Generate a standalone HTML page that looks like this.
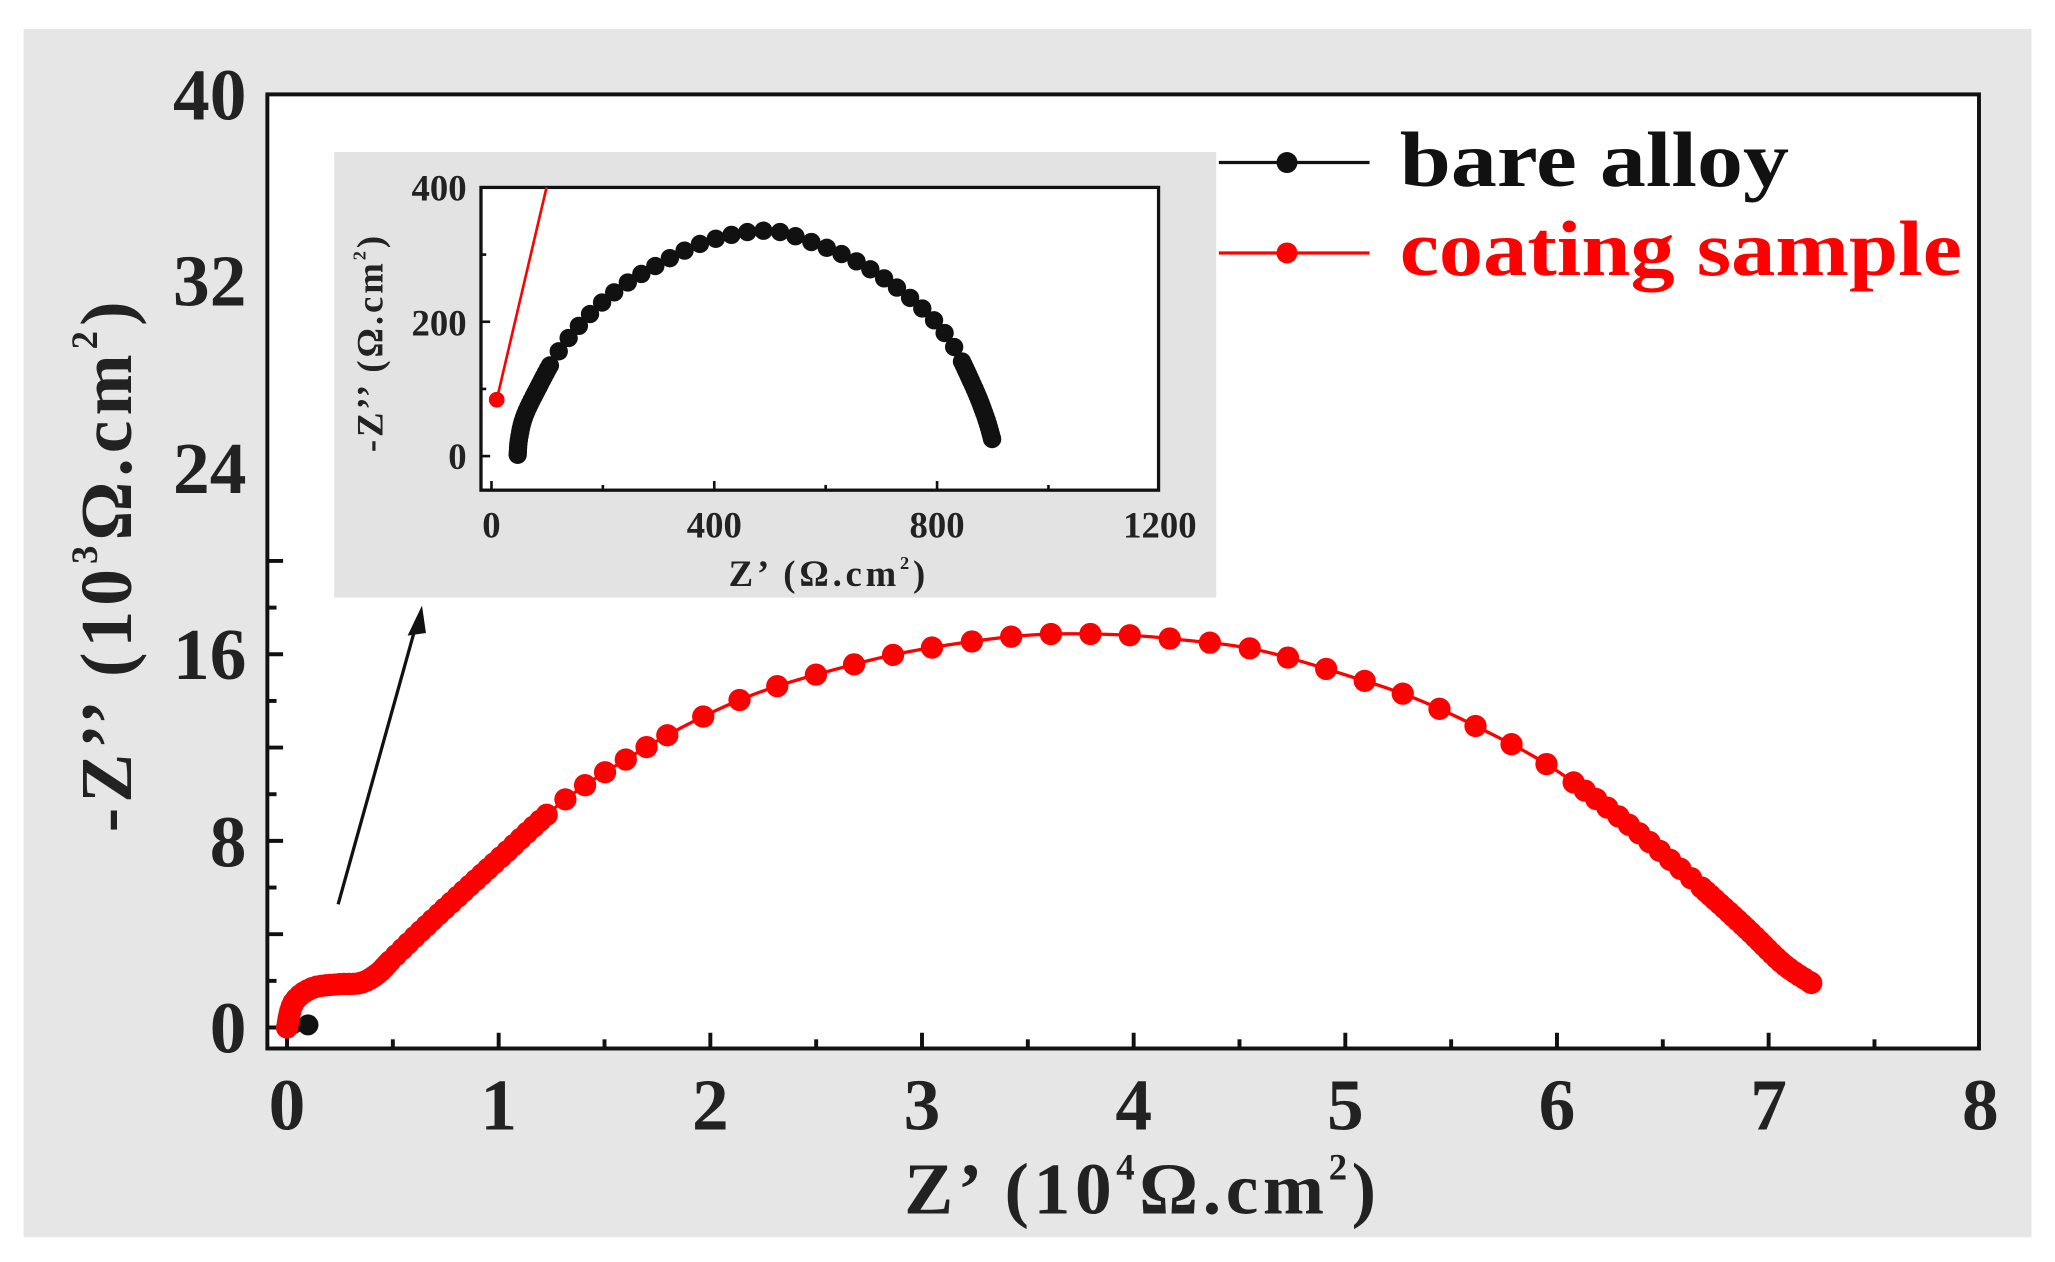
<!DOCTYPE html>
<html><head><meta charset="utf-8"><style>
html,body{margin:0;padding:0;background:#fff;}
svg{display:block;}
text{font-family:"Liberation Serif",serif;font-weight:bold;}
</style></head><body>
<svg id="s" width="2055" height="1262" viewBox="0 0 1568 962.9" xmlns="http://www.w3.org/2000/svg">
<rect x="0" y="0" width="1568" height="963" fill="#fff"/>
<rect x="18" y="22" width="1532" height="922" fill="#e6e6e6"/>
<rect x="204" y="72" width="1306" height="728" fill="#fff" stroke="#111" stroke-width="3"/>
<g id="ticks" stroke="#111" stroke-width="3"></g>
<g font-size="56" fill="#222" text-anchor="middle">
<text x="219" y="862">0</text><text x="380.5" y="862">1</text><text x="542" y="862">2</text><text x="703.5" y="862">3</text><text x="865" y="862">4</text><text x="1026.5" y="862">5</text><text x="1188" y="862">6</text><text x="1349.5" y="862">7</text><text x="1511" y="862">8</text>
</g>
<g font-size="56" fill="#222" text-anchor="end">
<text x="188" y="803">0</text><text x="188" y="661">8</text><text x="188" y="518">16</text><text x="188" y="376">24</text><text x="188" y="233">32</text><text x="188" y="91">40</text>
</g>
<text x="690" y="926" font-size="56" fill="#222" textLength="360" lengthAdjust="spacing">Z’ (10<tspan font-size="28" dy="-26">4</tspan><tspan dy="26">Ω.cm</tspan><tspan font-size="28" dy="-26">2</tspan><tspan dy="26">)</tspan></text>
<text transform="translate(100,635) rotate(-90)" font-size="56" fill="#222" textLength="405" lengthAdjust="spacing">-Z’’ (10<tspan font-size="28" dy="-26">3</tspan><tspan dy="26">Ω.cm</tspan><tspan font-size="28" dy="-26">2</tspan><tspan dy="26">)</tspan></text>
<g id="main"></g>
<line x1="258" y1="690" x2="318" y2="475" stroke="#111" stroke-width="2.5"/>
<polygon points="322,462 311,485 325,483" fill="#111"/>
<rect x="255" y="116" width="673" height="340" fill="#e3e3e3"/>
<rect x="367" y="143" width="517" height="231" fill="#fff" stroke="#111" stroke-width="2.5"/>
<g id="iticks" stroke="#111" stroke-width="2"></g>
<g font-size="28" fill="#222" text-anchor="middle">
<text x="375" y="410">0</text><text x="545" y="410">400</text><text x="715" y="410">800</text><text x="885" y="410">1200</text>
</g>
<g font-size="28" fill="#222" text-anchor="end">
<text x="356" y="358">0</text><text x="356" y="256">200</text><text x="356" y="153">400</text>
</g>
<text x="556" y="447" font-size="28" fill="#222" textLength="150" lengthAdjust="spacing">Z’ (Ω.cm<tspan font-size="14" dy="-13">2</tspan><tspan dy="13">)</tspan></text>
<text transform="translate(292,345) rotate(-90)" font-size="28" fill="#222" textLength="165" lengthAdjust="spacing">-Z’’ (Ω.cm<tspan font-size="14" dy="-13">2</tspan><tspan dy="13">)</tspan></text>
<g id="inset"></g>
<line x1="930" y1="124" x2="1045" y2="124" stroke="#111" stroke-width="2.5"/>
<circle cx="982" cy="124" r="8" fill="#111"/>
<line x1="930" y1="193" x2="1045" y2="193" stroke="#f00" stroke-width="2.5"/>
<circle cx="982" cy="193" r="8" fill="#f00"/>
<text x="1068" y="142" font-size="60" fill="#111" textLength="297" lengthAdjust="spacingAndGlyphs">bare  alloy</text>
<text x="1068" y="210" font-size="60" fill="#f00" textLength="429" lengthAdjust="spacingAndGlyphs">coating sample</text>
</svg>
<script>
var NS="http://www.w3.org/2000/svg";
function el(p,t,a){var e=document.createElementNS(NS,t);for(var k in a)e.setAttribute(k,a[k]);p.appendChild(e);return e;}
var tk=document.getElementById("ticks");
for(var i=0;i<=16;i++){var x=219+80.75*i;if(x>1509)break;var L=i%2?7:12;el(tk,"line",{x1:x,y1:800,x2:x,y2:800-L});}
for(var i=0;i<=10;i++){var y=784-35.6*i;var L=i%2?7:12;el(tk,"line",{x1:204,y1:y,x2:204+L,y2:y});}
var it=document.getElementById("iticks");
for(var i=0;i<=6;i++){var x=375+85*i;if(x>883)break;var L=i%2?4:7;el(it,"line",{x1:x,y1:374,x2:x,y2:374-L});}
for(var i=0;i<=4;i++){var y=348-51.25*i;if(y<143)break;var L=i%2?4:7;el(it,"line",{x1:367,y1:y,x2:367+L,y2:y});}
function walk(g,pts,col,r,spf,lw){
 var d="M"+pts.map(function(p){return p[0]+","+p[1]}).join("L");
 el(g,"path",{d:d,fill:"none",stroke:col,"stroke-width":lw});
 var acc=0;el(g,"circle",{cx:pts[0][0],cy:pts[0][1],r:r,fill:col});
 for(var i=1;i<pts.length;i++){var a=pts[i-1],b=pts[i];var dx=b[0]-a[0],dy=b[1]-a[1];var len=Math.hypot(dx,dy);var n=Math.ceil(len);
  for(var j=1;j<=n;j++){acc+=len/n;var x=a[0]+dx*j/n,y=a[1]+dy*j/n;if(acc>=spf(x,y)){acc=0;el(g,"circle",{cx:x,cy:y,r:r,fill:col});}}}
 var l=pts[pts.length-1];el(g,"circle",{cx:l[0],cy:l[1],r:r,fill:col});
}
function smooth(p){var out=[];for(var i=0;i<p.length-1;i++){var p0=p[Math.max(0,i-1)],p1=p[i],p2=p[i+1],p3=p[Math.min(p.length-1,i+2)];
 for(var t=0;t<1;t+=0.1){var t2=t*t,t3=t2*t;out.push([0.5*((2*p1[0])+(-p0[0]+p2[0])*t+(2*p0[0]-5*p1[0]+4*p2[0]-p3[0])*t2+(-p0[0]+3*p1[0]-3*p2[0]+p3[0])*t3),0.5*((2*p1[1])+(-p0[1]+p2[1])*t+(2*p0[1]-5*p1[1]+4*p2[1]-p3[1])*t2+(-p0[1]+3*p1[1]-3*p2[1]+p3[1])*t3)]);}}
 out.push(p[p.length-1]);return out;}
var main=document.getElementById("main");
el(main,"circle",{cx:235,cy:782,r:8,fill:"#111"});
el(main,"circle",{cx:224,cy:782,r:7,fill:"#111"});
var red=smooth([[219,784],[224,765],[238,754],[258,751],[275,750],[288,743],[300,731],[330,702],[380,656],[430,611],[480,578],[530,550],[580,528],[640,510],[700,496],[780,485],[845,484],[900,488],[960,496],[1030,516],[1080,533],[1130,556],[1180,583],[1230,619],[1280,661],[1330,706],[1360,735],[1382,750]]);
walk(main,red,"#f00",8.5,function(x,y){if(x<300)return 3;if(x<420)return 6;if(x>1300)return 4;if(x>1200)return 10;if(x<520)return 18;return 30;},2.5);
var ins=document.getElementById("inset");
el(ins,"line",{x1:379,y1:305,x2:417,y2:143,stroke:"#f00","stroke-width":2});
el(ins,"circle",{cx:379,cy:305,r:6,fill:"#f00"});
var blk=smooth([[395,347],[396,335],[400,318],[410,297],[425,270],[445,245],[470,222],[500,203],[540,184],[585,176],[620,185],[660,203],[700,232],[725,260],[742,293],[752,318],[757,335]]);
walk(ins,blk,"#111",7,function(x,y){if(x<420||x>735)return 2.5;return 12;},2);
</script>
</body></html>
